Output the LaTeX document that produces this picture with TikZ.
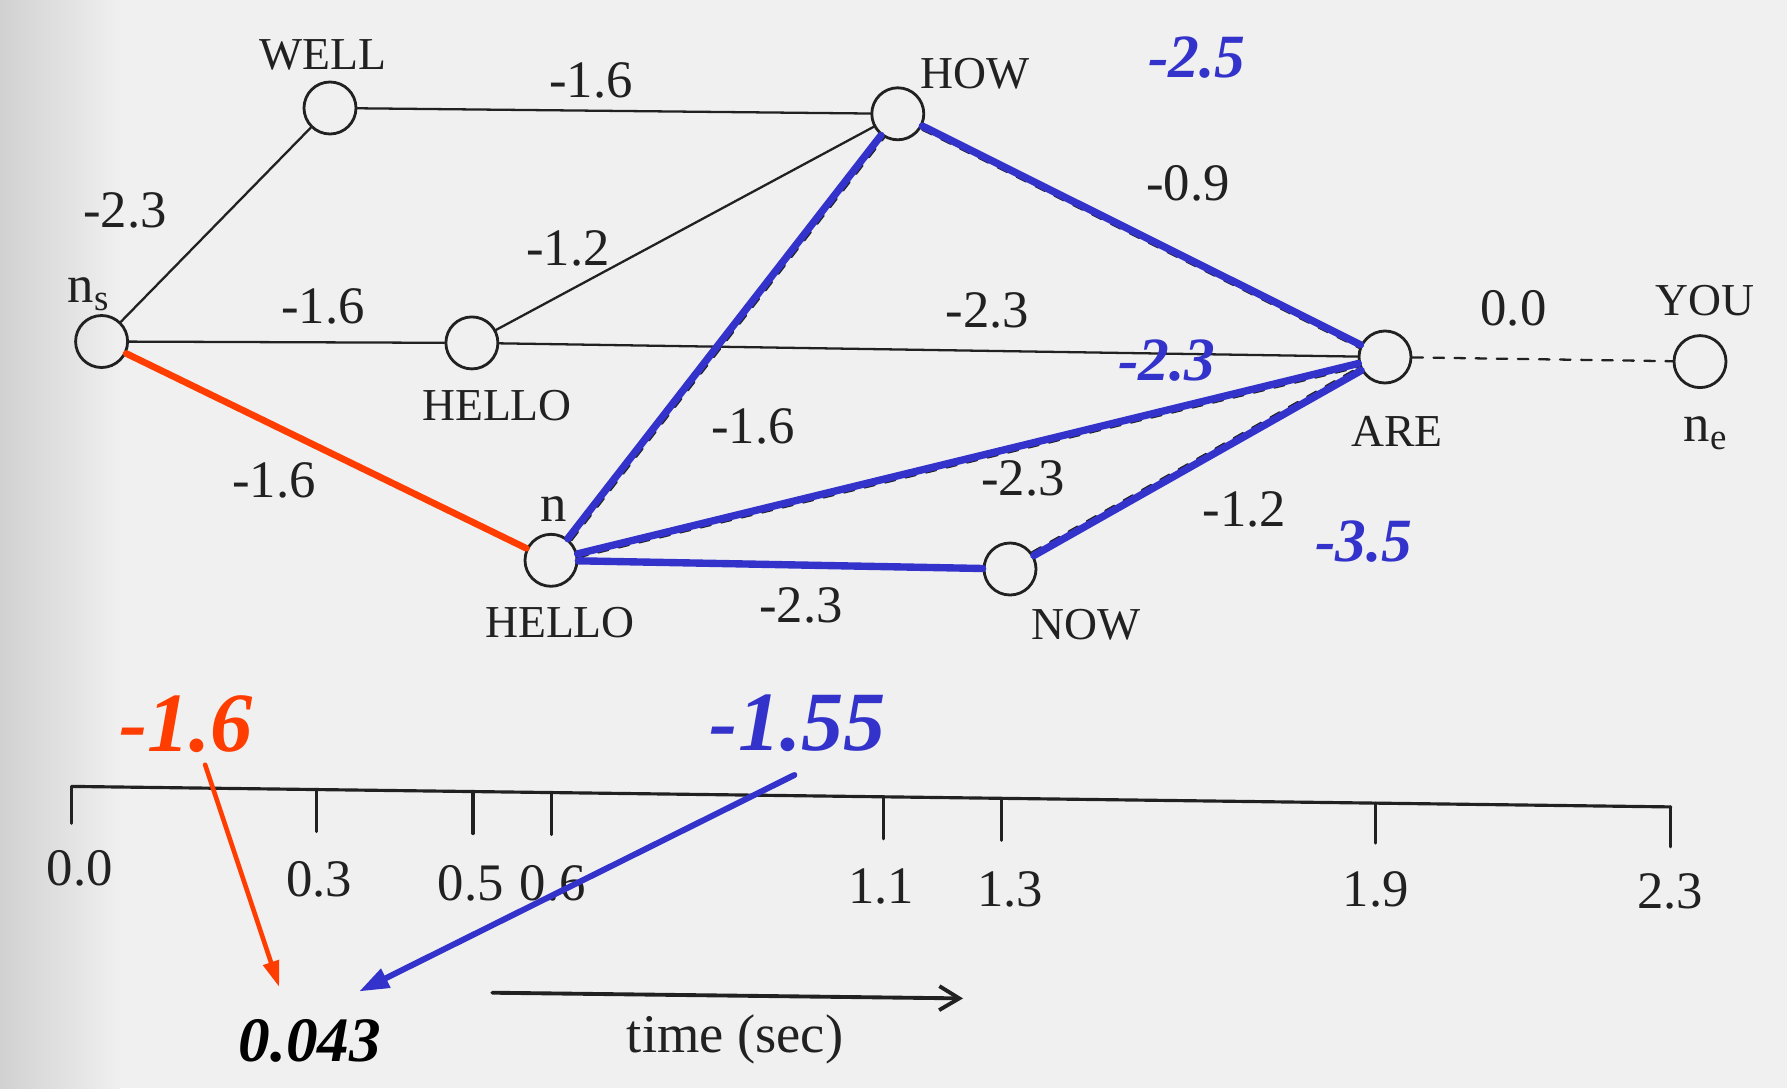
\documentclass[tikz,border=0pt]{standalone}
\usepackage{fontspec}
\setmainfont{Liberation Serif}
\usetikzlibrary{arrows.meta}
\definecolor{ttttcc}{rgb}{0.2,0.2,0.8}
\definecolor{ffttqq}{rgb}{1,0.24,0}
\definecolor{eeeeee}{rgb}{0.94,0.94,0.94}
\definecolor{cdcdcd}{rgb}{0.82,0.82,0.82}
\definecolor{sqsqsq}{rgb}{0.13,0.13,0.13}

\begin{document}
\begin{tikzpicture}[line cap=round,line join=round,
  wordnode/.style={circle,draw=sqsqsq,line width=0.8pt,minimum size=0.52cm,inner sep=0pt},
  word/.style={font=\fontsize{13}{15}\selectfont,color=sqsqsq},
  cost/.style={font=\fontsize{15}{17}\selectfont,color=sqsqsq},
  score/.style={font=\fontsize{17.5}{20}\selectfont\bfseries\itshape,color=ttttcc},
  total/.style={font=\fontsize{24}{26}\selectfont\bfseries\itshape},
  lattice/.style={line width=0.65pt,color=sqsqsq},
  printed/.style={line width=0.7pt,dashed,color=sqsqsq},
  best/.style={line width=2.1pt,color=ttttcc},
  worse/.style={line width=1.9pt,color=ffttqq},
  axis/.style={line width=0.9pt,color=sqsqsq}]
  \useasboundingbox (0,0) rectangle (17.87,-10.88);
  \fill[color=eeeeee] (0,0) rectangle (17.87,-10.88);
  \shade[left color=cdcdcd,right color=eeeeee] (0,0) rectangle (1.2,-10.88);
  % word lattice
  \node[wordnode] (ns) at (1.016,-3.415) {};
  \node[wordnode] (well) at (3.30,-1.08) {};
  \node[wordnode] (hello1) at (4.719,-3.429) {};
  \node[wordnode] (how) at (8.978,-1.138) {};
  \node[wordnode] (are) at (13.85,-3.57) {};
  \node[wordnode] (you) at (17.00,-3.616) {};
  \node[wordnode] (hello2) at (5.51,-5.603) {};
  \node[wordnode] (now) at (10.10,-5.69) {};
  \node[word] (wellw) at (3.226,-0.545) {WELL};
  \node[word] (hello1w) at (4.97,-4.06) {HELLO};
  \node[word] (howw) at (9.755,-0.737) {HOW};
  \node[word] (arew) at (13.97,-4.31) {ARE};
  \node[word] (youw) at (17.05,-3.01) {YOU};
  \node[word] (hello2w) at (5.60,-6.23) {HELLO};
  \node[word] (noww) at (10.86,-6.25) {NOW};
  \node[cost] (nsw) at (0.89,-2.94) {n\textsubscript{s}};
  \node[cost] (new) at (17.06,-4.33) {n\textsubscript{e}};
  \node[cost] (nw) at (5.54,-5.09) {n};
  \draw[lattice] (ns) -- (well);
  \draw[lattice] (well) -- (how);
  \draw[lattice] (ns) -- (hello1);
  \draw[lattice] (hello1) -- (how);
  \draw[lattice] (hello1) -- (are);
  \draw[lattice,dashed] (are) -- (you);
  \draw[printed,transform canvas={shift={(0.035,-0.015)}}] (hello2) -- (how);
  \draw[printed,transform canvas={shift={(0,-0.035)}}] (how) -- (are);
  \draw[printed,transform canvas={shift={(0,-0.035)}}] (hello2) -- (are);
  \draw[printed,transform canvas={shift={(-0.02,0.03)}}] (now) -- (are);
  \draw[best] (hello2) -- (how);
  \draw[best] (how) -- (are);
  \draw[best] (hello2) -- (are);
  \draw[best] (hello2) -- (now);
  \draw[best] (now) -- (are);
  \draw[worse] (ns) -- (hello2);
  \node[cost] (c1) at (1.25,-2.10) {-2.3};
  \node[cost] (c2) at (5.91,-0.80) {-1.6};
  \node[cost] (c3) at (3.23,-3.06) {-1.6};
  \node[cost] (c4) at (5.68,-2.48) {-1.2};
  \node[cost] (c5) at (9.875,-3.10) {-2.3};
  \node[cost] (c6) at (15.135,-3.08) {0.0};
  \node[cost] (c7) at (7.53,-4.26) {-1.6};
  \node[cost] (c8) at (2.74,-4.80) {-1.6};
  \node[cost] (c9) at (11.88,-1.83) {-0.9};
  \node[cost] (c10) at (10.23,-4.78) {-2.3};
  \node[cost] (c11) at (12.445,-5.09) {-1.2};
  \node[cost] (c12) at (8.01,-6.05) {-2.3};
  \node[score] (s1) at (11.97,-0.58) {-2.5};
  \node[score] (s2) at (11.67,-3.61) {-2.3};
  \node[score] (s3) at (13.64,-5.42) {-3.5};
  % time axis
  \draw[axis] (0.718,-7.864) -- (16.708,-8.069);
  \draw[axis] (0.718,-7.864) -- ++(0,-0.37);
  \draw[axis] (3.168,-7.895) -- ++(0,-0.42);
  \draw[axis] (4.730,-7.915) -- ++(0,-0.42);
  \draw[axis] (5.516,-7.926) -- ++(0,-0.42);
  \draw[axis] (8.833,-7.968) -- ++(0,-0.42);
  \draw[axis] (10.018,-7.983) -- ++(0,-0.42);
  \draw[axis] (13.756,-8.031) -- ++(0,-0.40);
  \draw[axis] (16.708,-8.069) -- ++(0,-0.40);
  \node[cost] (t0) at (0.798,-8.684) {0.0};
  \node[cost] (t3) at (3.191,-8.798) {0.3};
  \node[cost] (t5) at (4.707,-8.833) {0.5};
  \node[cost] (t6) at (5.527,-8.833) {0.6};
  \node[cost] (t11) at (8.81,-8.867) {1.1};
  \node[cost] (t13) at (10.10,-8.89) {1.3};
  \node[cost] (t19) at (13.756,-8.89) {1.9};
  \node[cost] (t23) at (16.70,-8.91) {2.3};
  \coordinate (ta) at (4.923,-9.927);
  \coordinate (tb) at (9.63,-9.984);
  \draw[axis,line width=1.1pt,-{Straight Barb[length=0.2cm,width=0.24cm]}] (ta) -- (tb);
  \node[cost,font=\fontsize{15.5}{17}\selectfont] (timew) at (7.351,-10.394) {time (sec)};
  % path totals
  \node[total,color=ffttqq] (redsum) at (1.858,-7.237) {-1.6};
  \node[total,color=ttttcc] (bluesum) at (7.978,-7.237) {-1.55};
  \node[font=\fontsize{18}{20}\selectfont\bfseries\itshape] (ratio) at (3.10,-10.405) {0.043};
  \coordinate (r0) at (2.051,-7.647);
  \coordinate (r1) at (2.792,-9.870);
  \coordinate (b0) at (7.944,-7.75);
  \coordinate (b1) at (3.59,-9.915);
  \draw[line width=1.3pt,color=ffttqq,-{Triangle[length=0.26cm,width=0.16cm]}] (r0) -- (r1);
  \draw[line width=1.7pt,color=ttttcc,-{Triangle[length=0.3cm,width=0.2cm]}] (b0) -- (b1);
\end{tikzpicture}
\end{document}
